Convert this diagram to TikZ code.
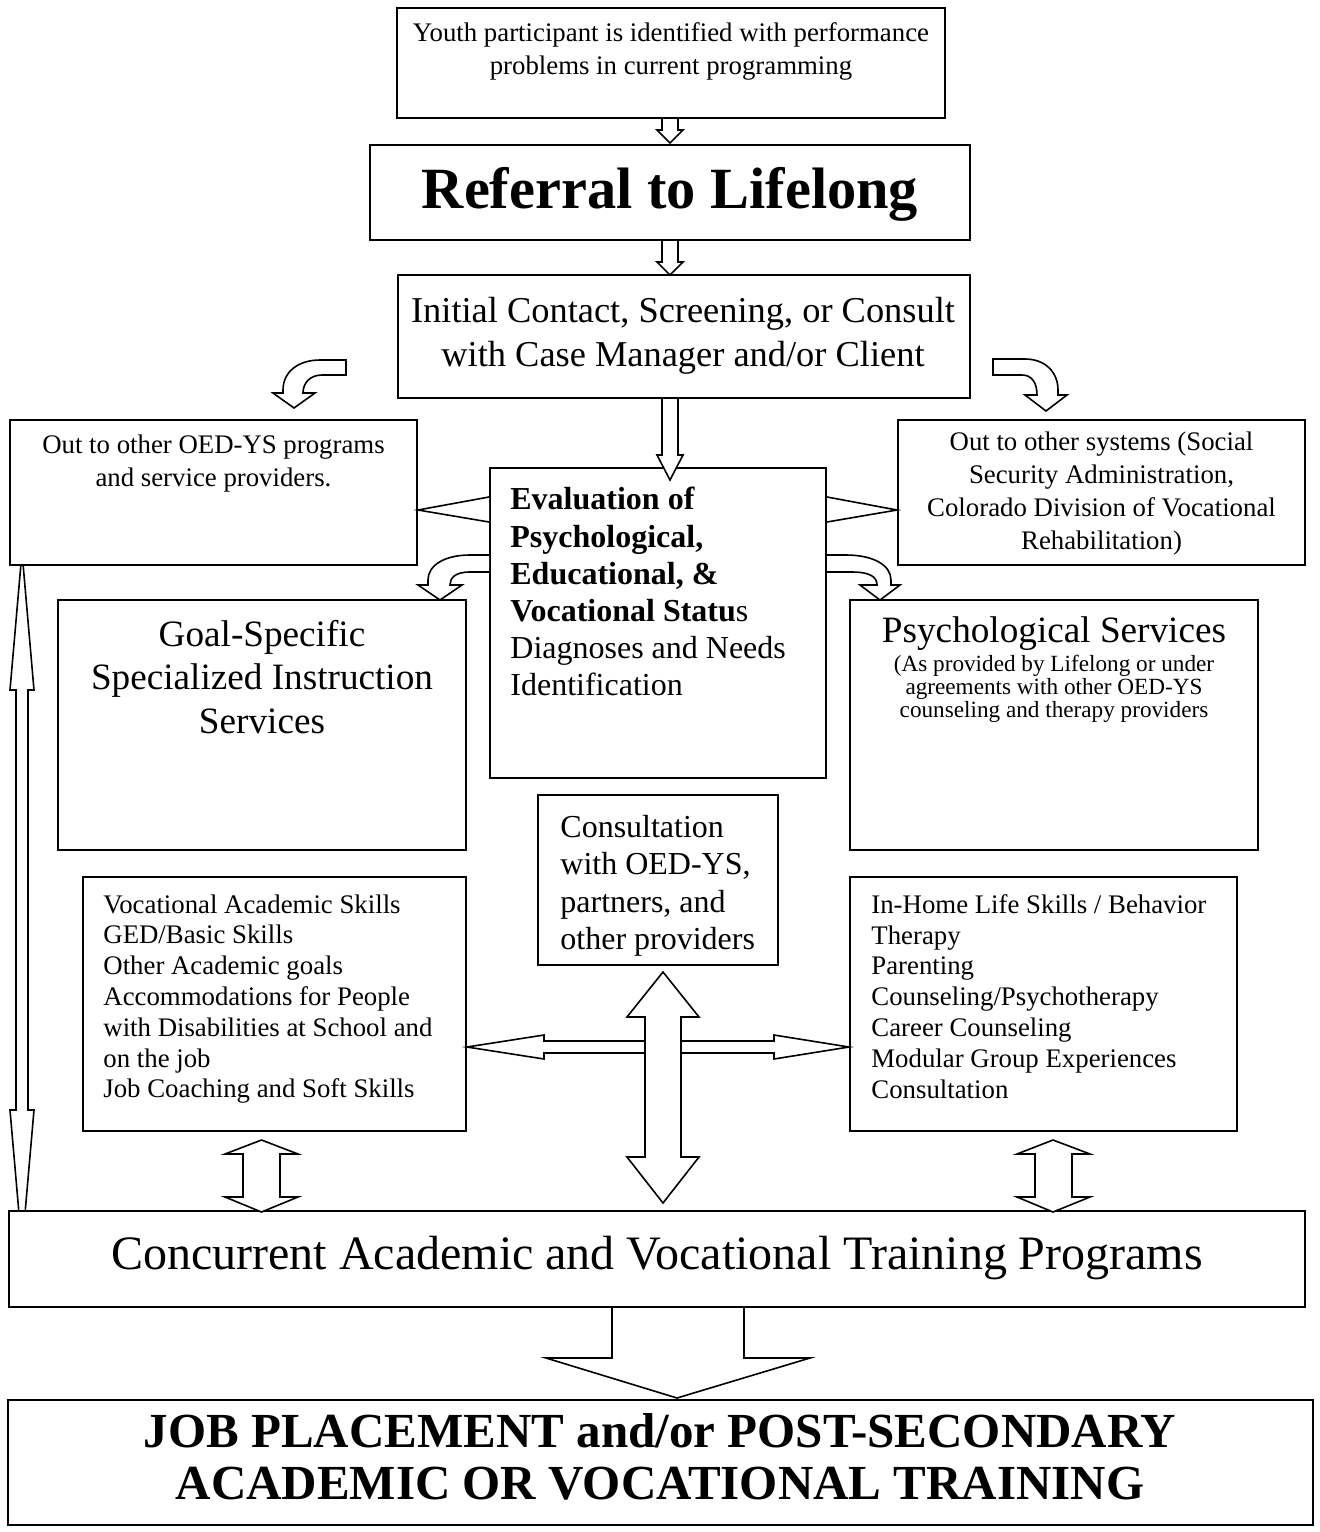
\documentclass[tikz,border=0pt]{standalone}
\usepackage{fontspec}
\setmainfont{Liberation Serif}
\begin{document}
\begin{tikzpicture}[x=0.5pt,y=-0.5pt,
  box/.style={draw, line width=1pt, inner sep=0pt, fill=white},
  arr/.style={draw, line width=0.8pt, fill=white, line join=miter},
  tsmall/.style={inner sep=0pt, font=\fontsize{13.4pt}{16.5pt}\selectfont},
  tmid/.style={inner sep=0pt, font=\fontsize{16pt}{18.6pt}\selectfont},
  tlarge/.style={inner sep=0pt, font=\fontsize{18.6pt}{21.8pt}\selectfont},
  tsub/.style={inner sep=0pt, font=\fontsize{11.6pt}{11.6pt}\selectfont},
  tlist/.style={inner sep=0pt, font=\fontsize{13.4pt}{15.4pt}\selectfont, align=left, anchor=north west}]
\useasboundingbox (0,0) rectangle (1319,1532);

% long left double arrow (behind boxes)
\draw[arr] (22,552) -- (34,690) -- (28,690) -- (28,1110) -- (34,1110) -- (22,1248) -- (10,1110) -- (16,1110) -- (16,690) -- (10,690) -- cycle;

% boxes
\node[box, minimum width=274pt, minimum height=55pt] (youth) at (671,63) {};
\node[box, minimum width=300pt, minimum height=47.5pt] (referral) at (670,192.5) {};
\node[box, minimum width=286pt, minimum height=61.5pt] (initial) at (684,336.5) {};
\node[box, minimum width=203.5pt, minimum height=72.5pt] (leftout) at (213.5,492.5) {};
\node[box, minimum width=203.5pt, minimum height=72.5pt] (rightout) at (1101.5,492.5) {};
\node[box, minimum width=168pt, minimum height=155pt] (eval) at (658,623) {};
\node[box, minimum width=204pt, minimum height=125pt] (goal) at (262,725) {};
\node[box, minimum width=204pt, minimum height=125pt] (psych) at (1054,725) {};
\node[box, minimum width=120pt, minimum height=85pt] (consult) at (658,880) {};
\node[box, minimum width=191.5pt, minimum height=127pt] (leftlist) at (274.5,1004) {};
\node[box, minimum width=193.5pt, minimum height=127pt] (rightlist) at (1043.5,1004) {};
\node[box, minimum width=648pt, minimum height=48pt] (conc) at (657,1259) {};
\node[box, minimum width=652.5pt, minimum height=62.5pt] (job) at (660.5,1462.5) {};

% texts
\node[tsmall, align=center] (youthtxt) at (671,51) {Youth participant is identified with performance\\problems in current programming};
\node[inner sep=0pt, font=\fontsize{29.2pt}{35pt}\selectfont\bfseries] (referraltxt) at (670,194) {Referral to Lifelong};
\node[inner sep=0pt, font=\fontsize{18.2pt}{21.8pt}\selectfont, align=center] (initialtxt) at (683,336) {Initial Contact, Screening, or Consult\\with Case Manager and/or Client};
\node[tsmall, align=center] (leftouttxt) at (213.5,464) {Out to other OED-YS programs\\and service providers.};
\node[tsmall, align=center] (rightouttxt) at (1101.5,494) {Out to other systems (Social\\Security Administration,\\Colorado Division of Vocational\\Rehabilitation)};
\node[tmid, align=left, anchor=north west] (evaltxt) at (510,487) {\textbf{Evaluation of}\\\textbf{Psychological,}\\\textbf{Educational, \&}\\\textbf{Vocational Statu}s\\Diagnoses and Needs\\Identification};
\node[tlarge, align=center] (goaltxt) at (262,677) {Goal-Specific\\Specialized Instruction\\Services};
\node[tlarge] (psychtxt) at (1054,634) {Psychological Services};
\node[tsub, align=center] (psychsub) at (1054,689) {(As provided by Lifelong or under\\agreements with other OED-YS\\counseling and therapy providers};
\node[tmid, align=left, anchor=north west] (consulttxt) at (560,815) {Consultation\\with OED-YS,\\partners, and\\other providers};
\node[tlist] (leftlisttxt) at (103,894) {Vocational Academic Skills\\GED/Basic Skills\\Other Academic goals\\Accommodations for People\\with Disabilities at School and\\on the job\\Job Coaching and Soft Skills};
\node[tlist] (rightlisttxt) at (871,894) {In-Home Life Skills / Behavior\\Therapy\\Parenting\\Counseling/Psychotherapy\\Career Counseling\\Modular Group Experiences\\Consultation};
\node[inner sep=0pt, font=\fontsize{24pt}{28pt}\selectfont] (conctxt) at (657,1258) {Concurrent Academic and Vocational Training Programs};
\node[inner sep=0pt, font=\fontsize{24.5pt}{26pt}\selectfont\bfseries, align=center] (jobtxt) at (660,1457) {JOB PLACEMENT and/or POST-SECONDARY\\ACADEMIC OR VOCATIONAL TRAINING};

% straight down arrows
\draw[arr] (youth.south -| 662,0) -- (662,130) -- (657,130) -- (670,143) -- (683,130) -- (678,130) -- (youth.south -| 678,0);
\draw[arr] (referral.south -| 662,0) -- (662,262) -- (657,262) -- (670,275) -- (683,262) -- (678,262) -- (referral.south -| 678,0);
\draw[arr] (initial.south -| 662,0) -- (662,455) -- (657,455) -- (670,480) -- (683,455) -- (678,455) -- (initial.south -| 678,0);

% curved arrows from initial contact box
\draw[arr] (346,360) -- (320,360) .. controls (298,360) and (283,372) .. (283,390) -- (283,393) -- (273,393) -- (294,408) -- (315,393) -- (303,393) .. controls (303,383) and (310,375) .. (322,375) -- (346,375) -- cycle;
\draw[arr] (993,359) -- (1025,359) .. controls (1045,359) and (1058,372) .. (1058,390) -- (1058,395) -- (1067,395) -- (1046,411) -- (1025,395) -- (1037,395) .. controls (1037,383) and (1032,375) .. (1022,375) -- (993,375) -- cycle;

% triangles from eval box
\draw[arr] (eval.west |- 0,497) -- (leftout.east |- 0,510) -- (eval.west |- 0,522);
\draw[arr] (eval.east |- 0,497) -- (rightout.west |- 0,510) -- (eval.east |- 0,522);

% small curved arrows from eval box
\draw[arr] (eval.west |- 0,555) -- (470,555) .. controls (445,555) and (428,565) .. (428,580) -- (428,585) -- (418,585) -- (440,600) -- (462,585) -- (450,585) .. controls (450,578) and (455,572) .. (470,572) -- (eval.west |- 0,572);
\draw[arr] (eval.east |- 0,555) -- (846,555) .. controls (873,555) and (891,565) .. (891,580) -- (891,585) -- (900,585) -- (880,600) -- (860,585) -- (877,585) .. controls (877,577) and (870,572) .. (852,572) -- (eval.east |- 0,572);

% horizontal double arrow
\draw[arr] (leftlist.east |- 0,1047) -- (544,1035) -- (544,1041) -- (774,1041) -- (774,1035) -- (rightlist.west |- 0,1047) -- (774,1059) -- (774,1053) -- (544,1053) -- (544,1059) -- cycle;
% vertical big double arrow
\draw[arr] (663,972) -- (699,1017) -- (681,1017) -- (681,1157) -- (699,1157) -- (663,1203) -- (627,1157) -- (645,1157) -- (645,1017) -- (627,1017) -- cycle;

% small double arrows
\draw[arr] (261.5,1140) -- (298,1154) -- (280,1154) -- (280,1197) -- (298,1197) -- (261.5,1212) -- (225,1197) -- (243,1197) -- (243,1154) -- (225,1154) -- cycle;
\draw[arr] (1053,1140) -- (1090,1154) -- (1072,1154) -- (1072,1197) -- (1090,1197) -- (1053,1212) -- (1017,1197) -- (1035,1197) -- (1035,1154) -- (1017,1154) -- cycle;

% bottom arrow
\draw[arr] (conc.south -| 612,0) -- (612,1358) -- (546,1358) -- (677,1398) -- (810,1358) -- (744,1358) -- (conc.south -| 744,0);
\end{tikzpicture}
\end{document}
